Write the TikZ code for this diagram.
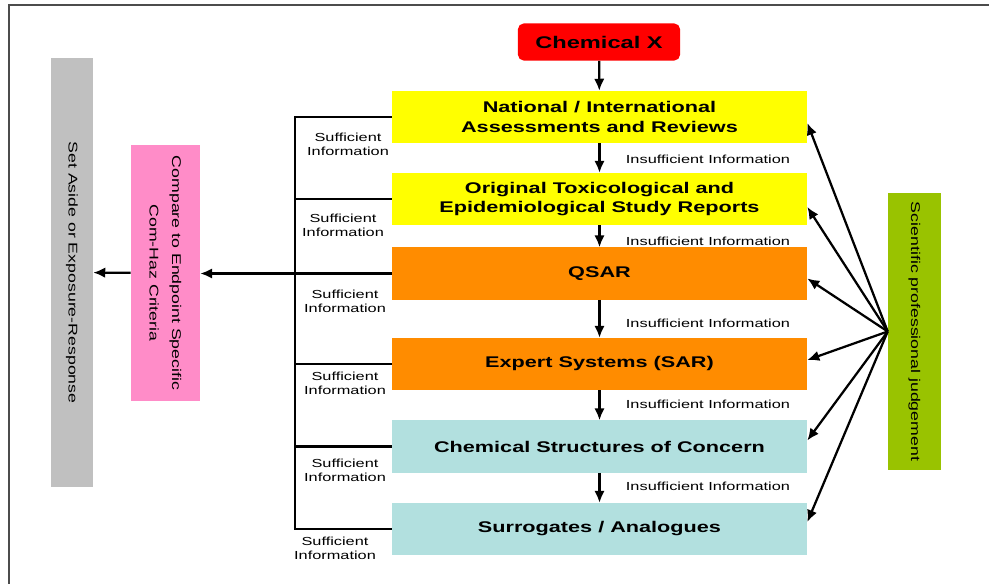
\documentclass[tikz,border=0pt]{standalone}
\usepackage{fontspec}
\setmainfont{Liberation Sans}[FakeStretch=1.4]
\usetikzlibrary{arrows.meta,calc}
\definecolor{chemred}{HTML}{FF0000}
\definecolor{revyellow}{HTML}{FFFF00}
\definecolor{qsarorange}{HTML}{FF8C00}
\definecolor{structteal}{HTML}{B2E0DF}
\definecolor{critpink}{HTML}{FF8CC8}
\definecolor{asidegray}{HTML}{C0C0C0}
\definecolor{judgegreen}{HTML}{99C300}

\begin{document}
\begin{tikzpicture}[x=0.025cm, y=-0.025cm, >={Latex[length=8.5pt,width=7.5pt]},
    tier/.style={minimum width=10.375cm, minimum height=1.3cm, align=center,
        inner sep=0pt, font=\fontsize{11}{14}\selectfont\bfseries},
    info/.style={align=center, inner sep=0pt, font=\fontsize{8.3}{10}\selectfont},
    side/.style={inner sep=0pt},
    vtext/.style={rotate=-90, align=center, font=\fontsize{9}{16}\selectfont},
    link/.style={line width=1.6pt}]
    \useasboundingbox (0,0) rectangle (989,584);
    \draw[line width=1.5pt, black!70] (9,584) -- (9,5) -- (989,5);
    % main chain
    \node[fill=chemred, rounded corners=4pt, minimum width=4.05cm, minimum height=0.925cm,
        font=\fontsize{12}{14}\selectfont\bfseries] (chem) at (599,42) {Chemical X};
    \node[tier, fill=revyellow] (b1) at (599.5,117) {National / International\\Assessments and Reviews};
    \node[tier, fill=revyellow] (b2) at (599.5,199) {Original Toxicological and\\Epidemiological Study Reports};
    \node[tier, fill=qsarorange] (b3) at (599.5,273.5) {QSAR};
    \node[tier, fill=qsarorange] (b4) at (599.5,364) {Expert Systems (SAR)};
    \node[tier, fill=structteal] (b5) at (599.5,446.5) {Chemical Structures of Concern};
    \node[tier, fill=structteal] (b6) at (599.5,529) {Surrogates / Analogues};
    % side boxes
    \node[side, fill=asidegray, minimum width=1.05cm, minimum height=10.725cm] (aside) at (72,272.5) {};
    \node[vtext] (asidetxt) at (aside) {Set Aside or Exposure-Response};
    \node[side, fill=critpink, minimum width=1.725cm, minimum height=6.4cm] (crit) at (165.5,273) {};
    \node[vtext] (crittxt) at (crit) {Compare to Endpoint Specific\\Com-Haz Criteria};
    \node[side, fill=judgegreen, minimum width=1.325cm, minimum height=6.925cm] (judge) at (914.5,331.5) {};
    \node[vtext] (judgetxt) at (judge) {Scientific professional judgement};
    % downward arrows
    \draw[link,->] (chem) -- (b1);
    \foreach \i/\j/\y in {1/2/159,2/3/241,3/4/323,4/5/404,5/6/486} {
        \draw[link,->] (b\i) -- (b\j);
        \node[info] (ins\i) at (708,\y) {Insufficient Information};
    }
    % bracket to the left
    \coordinate (bartop) at (295,117);
    \coordinate (barbot) at (295,529);
    \draw[link] (b1.west) -- (bartop) -- (barbot) -- (b6.west);
    \foreach \i in {2,...,5}
        \draw[link] (b\i.west) -- (b\i.west -| bartop);
    \draw[link,->] (b3.west -| bartop) -- (b3.west -| crit.east);
    \draw[link,->] (crit) -- (aside);
    \foreach \x/\y [count=\k] in {348/144,343/225,345/301,345/383,345/470,335/548}
        \node[info] (suf\k) at (\x,\y) {Sufficient\\Information};
    % judgement arrows
    \foreach \i/\d in {1/6,2/8,3/5,4/-4,5/-6,6/-7}
        \draw[link,->] (judge.west) -- ($(b\i.east)+(0,\d)$);
\end{tikzpicture}
\end{document}
